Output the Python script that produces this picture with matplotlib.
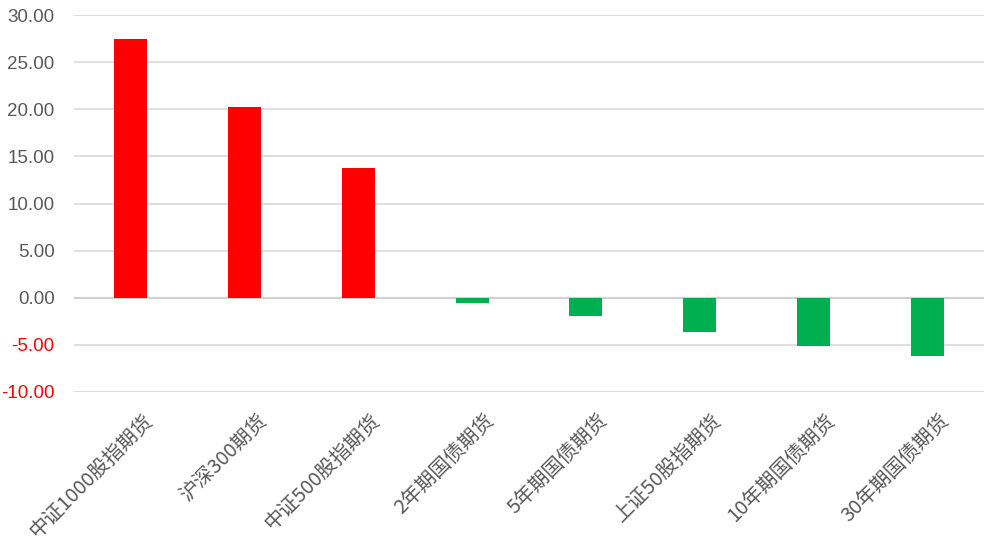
import matplotlib
matplotlib.use("Agg")
import matplotlib.pyplot as plt

plt.rcParams['font.family'] = ['Noto Sans CJK SC', 'DejaVu Sans']

# 各品种涨跌幅
categories = ["中证1000股指期货", "沪深300期货", "中证500股指期货", "2年期国债期货",
              "5年期国债期货", "上证50股指期货", "10年期国债期货", "30年期国债期货"]
values = [27.45, 20.25, 13.75, -0.61, -1.96, -3.68, -5.07, -6.18]
yticks = [-10, -5, 0, 5, 10, 15, 20, 25, 30]

RED = "#ff0000"
GREEN = "#00b050"


def main():
    fig = plt.figure(figsize=(9.92, 5.5), dpi=100)
    ax = fig.add_axes([74 / 992, 158 / 550, (984 - 74) / 992, (392 - 15) / 550])

    x = range(len(categories))
    colors = [RED if v >= 0 else GREEN for v in values]
    ax.bar(x, values, width=0.29, color=colors, zorder=3)

    ax.set_xlim(-0.5, len(categories) - 0.5)
    ax.set_ylim(-10, 30)
    ax.set_yticks(yticks)
    ax.set_yticklabels([f"{t:.2f}" for t in yticks], fontsize=13.5,
                       family=['Liberation Sans', 'DejaVu Sans'])
    for lab, t in zip(ax.get_yticklabels(), yticks):
        lab.set_color(RED if t < 0 else "#595959")
    ax.yaxis.grid(True, color="#d9d9d9", linewidth=1.2, zorder=0)
    ax.axhline(0, color="#d0d0d0", linewidth=1.5, zorder=2)
    ax.tick_params(axis="y", length=0, pad=14)

    # x labels: rotated 45, end of text near the category
    ax.set_xticks([i + 0.1 for i in x])
    ax.set_xticklabels(categories, rotation=45, ha="right",
                       rotation_mode="anchor", fontsize=14.5, color="#595959")
    ax.tick_params(axis="x", length=0, pad=13)

    for s in ax.spines.values():
        s.set_visible(False)

    fig.savefig("out.png", dpi=100)


if __name__ == "__main__":
    main()
